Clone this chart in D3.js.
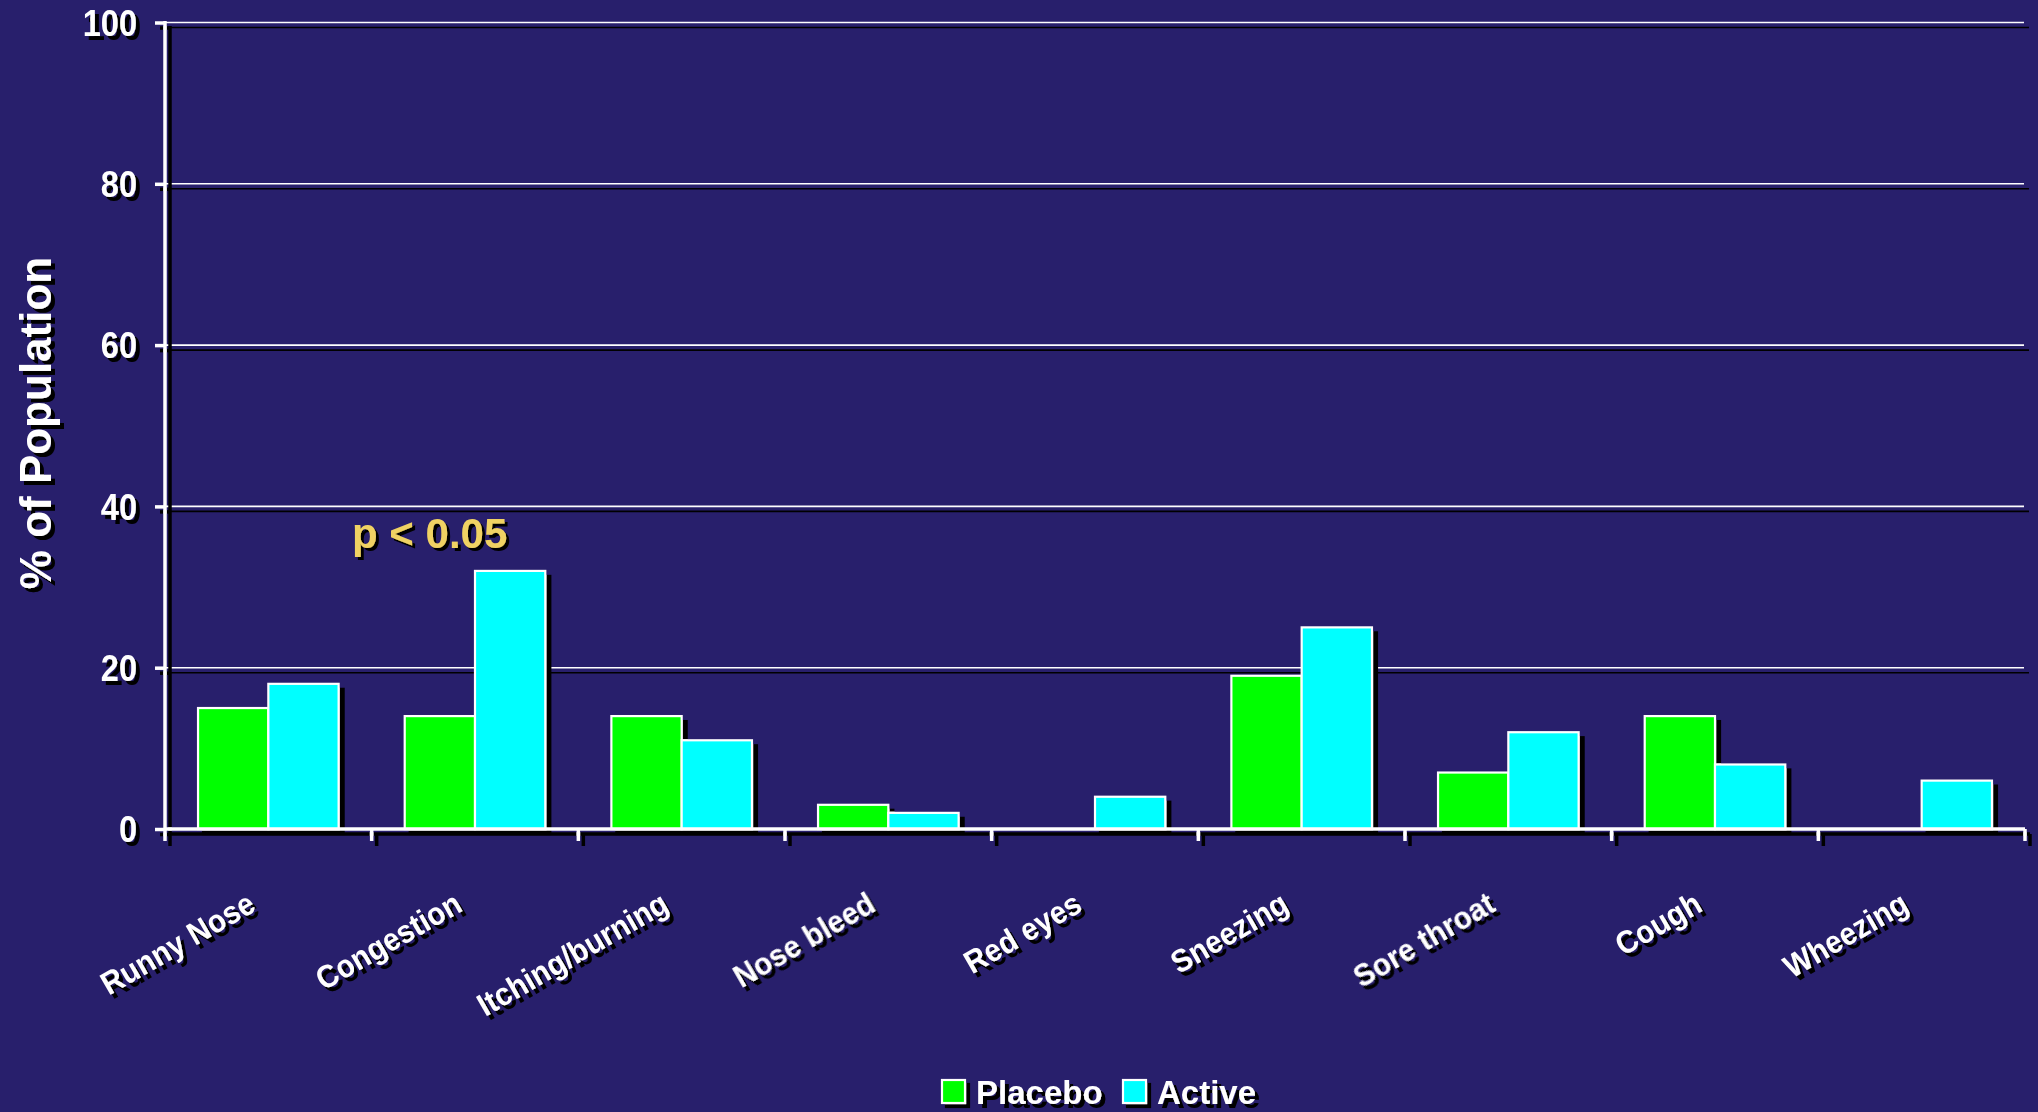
<!DOCTYPE html>
<html>
<head>
<meta charset="utf-8">
<script src="https://cdn.jsdelivr.net/npm/d3@7"></script>
<style>
  html, body { margin: 0; padding: 0; background: #281f6c; }
  svg { display: block; }
  text { font-family: "Liberation Sans", Arial, sans-serif; font-weight: bold; }
</style>
</head>
<body>
<svg id="chart" width="2038" height="1112"></svg>
<script>
// Symptom categories along the x axis
const categories = ["Runny Nose", "Congestion", "Itching/burning", "Nose bleed", "Red eyes",
                    "Sneezing", "Sore throat", "Cough", "Wheezing"];
// Series names and their values (% of population)
const seriesNames = ["Placebo", "Active"];
const placeboValues = [15, 14, 14, 3, 0, 19, 7, 14, 0];
const activeValues  = [18, 32, 11, 2, 4, 25, 12, 8, 6];
// Y axis ticks
const yTicks = [0, 20, 40, 60, 80, 100];
const yLabel = "% of Population";
const note = "p < 0.05";

const colors = { Placebo: "#00ff00", Active: "#00ffff" };
const bg = "#281f6c";

const svg = d3.select("#chart");
const W = 2038, H = 1112;
const plotLeft = 165, plotRight = 2025, plotTop = 22.5, plotBottom = 829;

svg.append("rect").attr("width", W).attr("height", H).attr("fill", bg);

// Hard black drop shadow used by every element
const defs = svg.append("defs");
function shadow(id, d) {
  const f = defs.append("filter").attr("id", id)
    .attr("filterUnits", "userSpaceOnUse")
    .attr("x", 0).attr("y", 0).attr("width", W).attr("height", H);
  f.append("feOffset").attr("in", "SourceAlpha").attr("dx", d).attr("dy", d).attr("result", "off");
  const m = f.append("feMerge");
  m.append("feMergeNode").attr("in", "off");
  m.append("feMergeNode").attr("in", "SourceGraphic");
}
shadow("sh5", 5);
shadow("sh4", 4);
shadow("sh3", 3);

const x0 = d3.scaleBand().domain(categories).range([plotLeft, plotRight]).padding(0);
const x1 = d3.scaleBand().domain(seriesNames).range([0, x0.bandwidth()])
  .paddingInner(0).paddingOuter(0.47);
const y = d3.scaleLinear().domain([0, 100]).range([plotBottom, plotTop]);

const rows = categories.map((c, i) => ({
  category: c,
  values: [
    { key: "Placebo", value: placeboValues[i] },
    { key: "Active", value: activeValues[i] }
  ]
}));

// Horizontal gridlines
svg.append("g").attr("filter", "url(#sh5)")
  .selectAll("line").data(yTicks.filter(t => t > 0)).join("line")
  .attr("x1", plotLeft).attr("x2", plotRight - 1)
  .attr("y1", d => y(d)).attr("y2", d => y(d))
  .attr("stroke", "#ffffff").attr("stroke-width", 1.6);

// Bars
const barLayer = svg.append("g").attr("filter", "url(#sh5)");
barLayer.selectAll("g").data(rows).join("g")
  .attr("transform", d => `translate(${x0(d.category)},0)`)
  .selectAll("rect").data(d => d.values.filter(v => v.value > 0)).join("rect")
  .attr("x", d => x1(d.key))
  .attr("width", x1.bandwidth())
  .attr("y", d => y(d.value))
  .attr("height", d => y(0) - y(d.value))
  .attr("fill", d => colors[d.key])
  .attr("stroke", "#ffffff").attr("stroke-width", 2.2);

// Axes
const axisLayer = svg.append("g").attr("filter", "url(#sh5)");
const yAxis = axisLayer.append("g").attr("transform", `translate(${plotLeft},0)`)
  .call(d3.axisLeft(y).tickValues(yTicks).tickSize(10).tickFormat(""));
yAxis.select(".domain").remove();
yAxis.selectAll(".tick line").attr("stroke", "#fff").attr("stroke-width", 3.5);
axisLayer.append("line")
  .attr("x1", plotLeft).attr("x2", plotLeft).attr("y1", plotTop - 1.5).attr("y2", plotBottom + 12)
  .attr("stroke", "#fff").attr("stroke-width", 3.5);

const boundaries = d3.range(categories.length + 1).map(i => plotLeft + i * x0.step());
axisLayer.append("line")
  .attr("x1", plotLeft).attr("x2", plotRight).attr("y1", plotBottom).attr("y2", plotBottom)
  .attr("stroke", "#fff").attr("stroke-width", 3.5);
axisLayer.selectAll("line.xt").data(boundaries.slice(1)).join("line")
  .attr("class", "xt")
  .attr("x1", d => d).attr("x2", d => d)
  .attr("y1", plotBottom).attr("y2", plotBottom + 12)
  .attr("stroke", "#fff").attr("stroke-width", 3.5);

// Y tick labels (slightly condensed bold face)
svg.append("g").attr("filter", "url(#sh4)")
  .selectAll("text").data(yTicks).join("text")
  .attr("transform", d => `translate(137,${y(d)}) scale(0.88,1)`)
  .attr("dy", "0.36em")
  .attr("text-anchor", "end").attr("font-size", 37).attr("fill", "#fff")
  .text(d => d);

// X category labels, rotated
svg.append("g").attr("filter", "url(#sh4)")
  .selectAll("text").data(categories).join("text")
  .attr("transform", d => `translate(${x0(d) + x0.bandwidth() / 2 - 11},910) rotate(-30) scale(0.92,1)`)
  .attr("text-anchor", "end").attr("font-size", 32).attr("fill", "#fff")
  .text(d => d);

// Y axis title
svg.append("g").attr("filter", "url(#sh4)")
  .append("text")
  .attr("transform", "translate(51,423) rotate(-90)")
  .attr("text-anchor", "middle").attr("font-size", 44).attr("fill", "#fff")
  .text(yLabel);

// Significance note above Congestion
svg.append("g").attr("filter", "url(#sh3)")
  .append("text")
  .attr("x", 352).attr("y", 548)
  .attr("text-anchor", "start").attr("font-size", 42).attr("fill", "#f0d264")
  .text(note);

// Legend
const legend = svg.append("g").attr("filter", "url(#sh4)");
const legendX = [942, 1123];
seriesNames.forEach((s, i) => {
  legend.append("rect")
    .attr("x", legendX[i]).attr("y", 1080).attr("width", 23).attr("height", 23)
    .attr("fill", colors[s]).attr("stroke", "#fff").attr("stroke-width", 2.2);
  legend.append("text")
    .attr("x", legendX[i] + 34).attr("y", 1104)
    .attr("font-size", 33).attr("fill", "#fff")
    .text(s);
});
</script>
</body>
</html>
